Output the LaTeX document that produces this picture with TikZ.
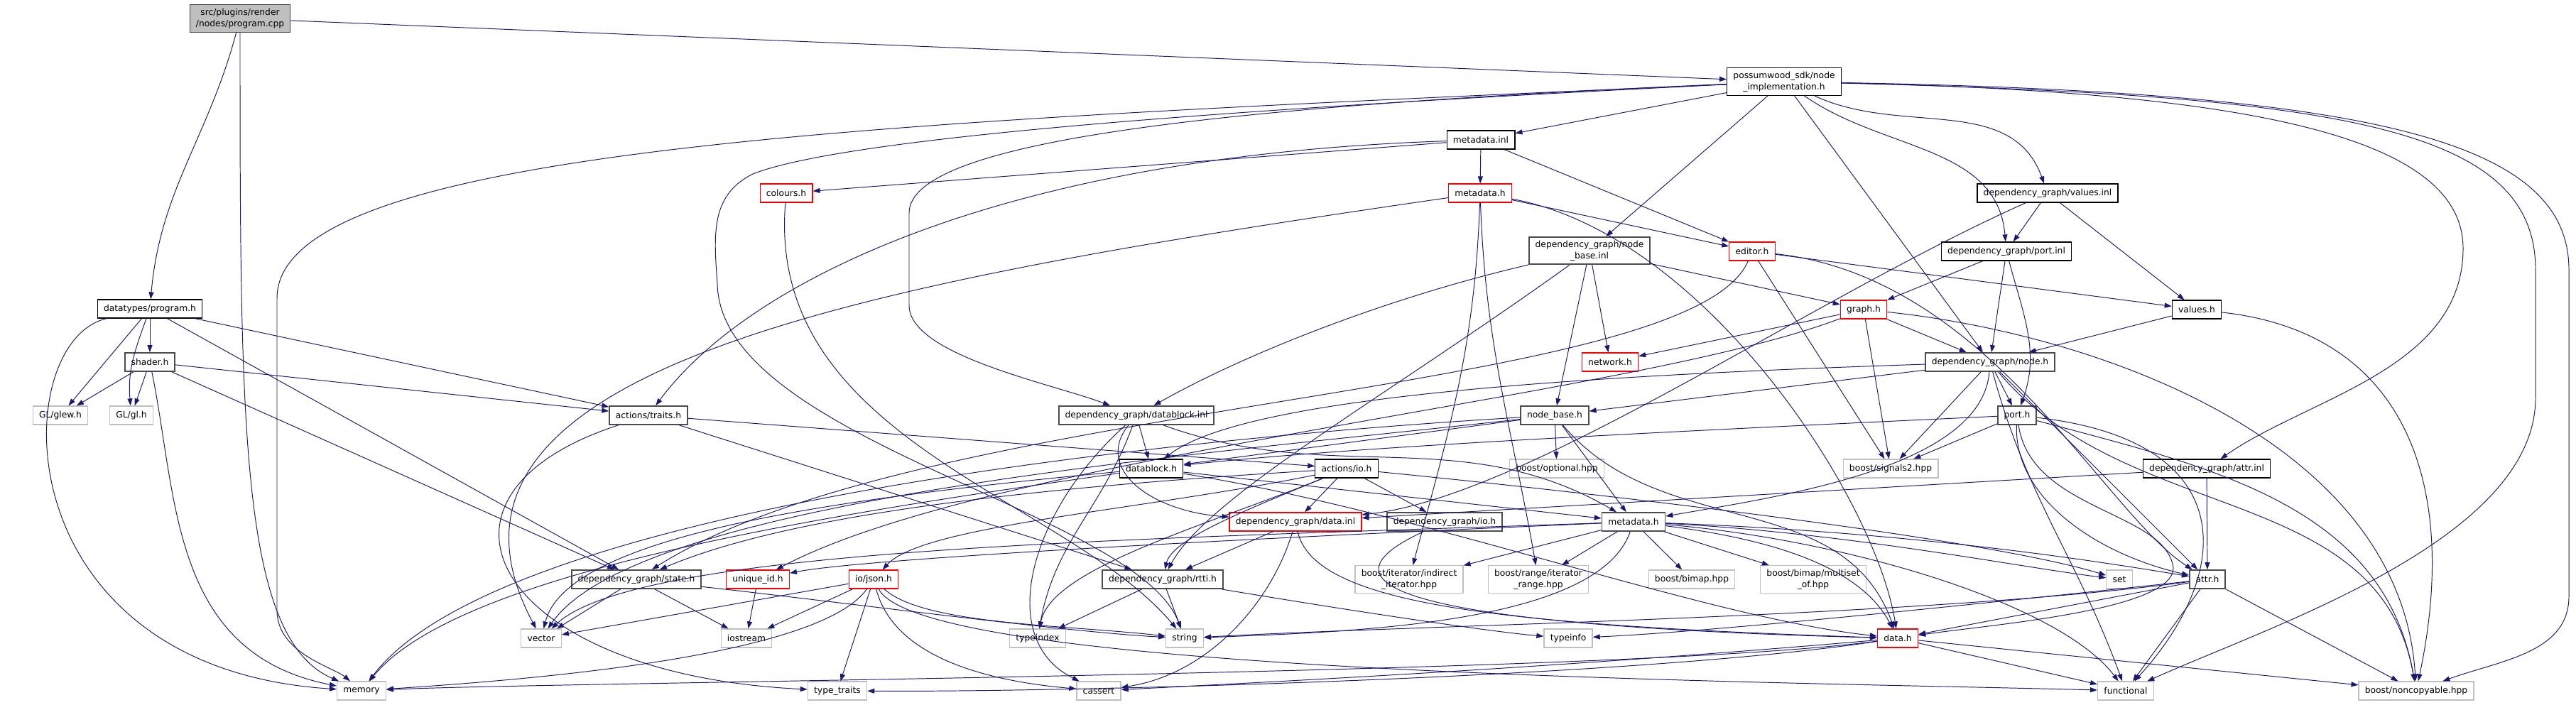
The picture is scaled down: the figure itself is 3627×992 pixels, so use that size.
\documentclass[tikz,border=0pt]{standalone}
\usepackage{fontspec}
\setmainfont{DejaVu Sans}
\usepackage{tikz}
\usetikzlibrary{arrows.meta}
\definecolor{edgeblue}{RGB}{25, 25, 112}
\definecolor{rootgray}{RGB}{191, 191, 191}
\definecolor{extgray}{RGB}{191, 191, 191}
\definecolor{truncred}{RGB}{255, 0, 0}

\begin{document}
\begin{tikzpicture}[x=0.02cm, y=0.02cm,
    file/.style={draw=black, fill=white, line width=0.7pt, inner xsep=5pt, inner ysep=3pt,
                 minimum height=0.52cm, align=center, font=\fontsize{7}{9}\selectfont},
    filedark/.style={file, draw=black!70, line width=1pt},
    trunc/.style={file, draw=truncred},
    ext/.style={file, draw=extgray},
    rootfile/.style={file, fill=rootgray, draw=black!75},
    dep/.style={draw=edgeblue, line width=0.55pt, -{Triangle[length=2mm, width=1.4mm]}}
]
    \path[use as bounding box, fill=white] (0,0) rectangle (3627,-992);

    % files
    \node[rootfile] (root) at (338,-26) {src/plugins/render\\/nodes/program.cpp};
    \node[file] (impl) at (2512,-115) {possumwood\_sdk/node\\\_implementation.h};
    \node[file] (minl) at (2085,-197) {metadata.inl};
    \node[trunc] (colours) at (1107,-272) {colours.h};
    \node[trunc] (mdh) at (2084,-272) {metadata.h};
    \node[file] (valinl) at (2883,-272) {dependency\_graph/values.inl};
    \node[filedark] (nbinl) at (2238,-353) {dependency\_graph/node\\\_base.inl};
    \node[trunc] (editor) at (2467,-354) {editor.h};
    \node[file] (portinl) at (2825,-354) {dependency\_graph/port.inl};
    \node[file] (dtprog) at (211,-435) {datatypes/program.h};
    \node[trunc] (graph) at (2624,-436) {graph.h};
    \node[file] (valh) at (3093,-436) {values.h};
    \node[filedark] (shader) at (211,-510) {shader.h};
    \node[trunc] (network) at (2267,-510) {network.h};
    \node[filedark] (nodeh) at (2802,-510) {dependency\_graph/node.h};
    \node[ext] (glew) at (85,-585) {GL/glew.h};
    \node[ext] (gl) at (185,-585) {GL/gl.h};
    \node[filedark] (traits) at (913,-585) {actions/traits.h};
    \node[filedark] (dbinl) at (1600,-585) {dependency\_graph/datablock.inl};
    \node[filedark] (nbh) at (2189,-585) {node\_base.h};
    \node[filedark] (porth) at (2840,-585) {port.h};
    \node[file] (dbh) at (1621,-660) {datablock.h};
    \node[file] (aio) at (1896,-660) {actions/io.h};
    \node[ext] (optional) at (2192,-660) {boost/optional.hpp};
    \node[ext] (signals) at (2662,-660) {boost/signals2.hpp};
    \node[file] (attrinl) at (3107,-660) {dependency\_graph/attr.inl};
    \node[trunc] (datainl) at (1824,-735) {dependency\_graph/data.inl};
    \node[filedark] (dgio) at (2034,-735) {dependency\_graph/io.h};
    \node[filedark] (dgmeta) at (2300,-735) {metadata.h};
    \node[filedark] (state) at (896,-816) {dependency\_graph/state.h};
    \node[trunc] (uid) at (1067,-816) {unique\_id.h};
    \node[trunc] (json) at (1230,-816) {io/json.h};
    \node[filedark] (rtti) at (1637,-816) {dependency\_graph/rtti.h};
    \node[ext] (indirect) at (1984,-816) {boost/iterator/indirect\\\_iterator.hpp};
    \node[ext] (range) at (2166,-816) {boost/range/iterator\\\_range.hpp};
    \node[ext] (bimap) at (2382,-816) {boost/bimap.hpp};
    \node[ext] (multiset) at (2553,-816) {boost/bimap/multiset\\\_of.hpp};
    \node[ext] (set) at (2984,-816) {set};
    \node[filedark] (attrh) at (3108,-816) {attr.h};
    \node[ext] (vector) at (762,-899) {vector};
    \node[ext] (iostream) at (1051,-899) {iostream};
    \node[ext] (typeindex) at (1461,-899) {typeindex};
    \node[ext] (strg) at (1668,-899) {string};
    \node[ext] (typeinfo) at (2208,-899) {typeinfo};
    \node[trunc] (datah) at (2672,-899) {data.h};
    \node[ext] (memory) at (509,-973) {memory};
    \node[ext] (ttraits) at (1179,-973) {type\_traits};
    \node[ext] (cassert) at (1547,-973) {cassert};
    \node[ext] (functional) at (2993,-973) {functional};
    \node[ext] (noncopy) at (3402,-973) {boost/noncopyable.hpp};

    % includes
    \draw[dep] (root) -- (impl);
    \draw[dep] (root) to[out=-105,in=85] (dtprog);
    \draw[dep] (root) .. controls (338,-600) and (338,-900) .. (memory);

    \draw[dep] (dtprog) .. controls (10,-480) and (0,-940) .. (memory);
    \draw[dep] (dtprog) -- (glew);
    \draw[dep] (dtprog) to[out=-110,in=95] (gl);
    \draw[dep] (dtprog) -- (shader);
    \draw[dep] (dtprog) -- (state);
    \draw[dep] (dtprog) -- (traits);

    \draw[dep] (shader) -- (glew);
    \draw[dep] (shader) -- (gl);
    \draw[dep] (shader) .. controls (250,-700) and (240,-920) .. (memory);
    \draw[dep] (shader) -- (state);
    \draw[dep] (shader) -- (traits);

    \draw[dep] (impl) -- (minl);
    \draw[dep] (impl) -- (nbinl);
    \draw[dep] (impl) -- (nodeh);
    \draw[dep] (impl) to[out=-35,in=95] (portinl);
    \draw[dep] (impl) to[out=-25,in=110] (valinl);
    \draw[dep] (impl) .. controls (3200,-130) and (3468,-200) .. (3468,-350)
        .. controls (3468,-520) and (3250,-560) .. (attrinl);
    \draw[dep] (impl) .. controls (3300,-135) and (3570,-180) .. (3570,-380)
        -- (3570,-560) .. controls (3570,-760) and (3200,-880) .. (functional);
    \draw[dep] (impl) .. controls (3350,-130) and (3617,-200) .. (3617,-380)
        -- (3617,-840) .. controls (3617,-920) and (3520,-930) .. (noncopy);
    \draw[dep] (impl) .. controls (1300,-170) and (390,-200) .. (390,-420)
        -- (390,-860) .. controls (390,-920) and (470,-940) .. (memory);
    \draw[dep] (impl) .. controls (1800,-150) and (1200,-190) .. (1060,-245)
        .. controls (1000,-275) and (1005,-330) .. (1010,-400)
        .. controls (1015,-620) and (1600,-720) .. (strg);
    \draw[dep] (impl) .. controls (1700,-150) and (1280,-200) .. (1280,-300)
        -- (1280,-430) .. controls (1280,-500) and (1480,-540) .. (dbinl);

    \draw[dep] (minl) -- (mdh);
    \draw[dep] (minl) -- (editor);
    \draw[dep] (minl) -- (colours);
    \draw[dep] (minl) .. controls (1400,-220) and (1050,-400) .. (traits);
    \draw[dep] (colours) .. controls (1078,-620) and (1500,-700) .. (strg);

    \draw[dep] (mdh) -- (editor);
    \draw[dep] (mdh) .. controls (1200,-400) and (560,-520) .. (vector);
    \draw[dep] (mdh) .. controls (2400,-330) and (2640,-700) .. (datah);
    \draw[dep] (mdh) to[out=-92,in=75] (indirect);
    \draw[dep] (mdh) to[out=-88,in=100] (range);

    \draw[dep] (valinl) -- (portinl);
    \draw[dep] (valinl) -- (valh);
    \draw[dep] (valinl) .. controls (2550,-420) and (2150,-700) .. (datainl);

    \draw[dep] (nbinl) -- (nbh);
    \draw[dep] (nbinl) -- (network);
    \draw[dep] (nbinl) -- (graph);
    \draw[dep] (nbinl) .. controls (1950,-420) and (1750,-500) .. (dbinl);
    \draw[dep] (nbinl) .. controls (1950,-560) and (1700,-700) .. (rtti);

    \draw[dep] (editor) -- (valh);
    \draw[dep] (editor) -- (signals);
    \draw[dep] (editor) .. controls (2380,-560) and (1300,-560) .. (state);
    \draw[dep] (editor) .. controls (2800,-390) and (2960,-720) .. (attrh);

    \draw[dep] (portinl) -- (graph);
    \draw[dep] (portinl) -- (nodeh);
    \draw[dep] (portinl) to[out=-75,in=70] (porth);

    \draw[dep] (graph) -- (network);
    \draw[dep] (graph) -- (nodeh);
    \draw[dep] (graph) -- (signals);
    \draw[dep] (graph) .. controls (2300,-560) and (1400,-640) .. (uid);
    \draw[dep] (graph) .. controls (2950,-470) and (3380,-620) .. (noncopy);

    \draw[dep] (valh) -- (nodeh);
    \draw[dep] (valh) .. controls (3400,-470) and (3460,-700) .. (noncopy);

    \draw[dep] (nodeh) -- (nbh);
    \draw[dep] (nodeh) -- (porth);
    \draw[dep] (nodeh) -- (signals);
    \draw[dep] (nodeh) -- (attrh);
    \draw[dep] (nodeh) to[out=-50,in=100] (noncopy);
    \draw[dep] (nodeh) to[out=-75,in=110] (functional);
    \draw[dep] (nodeh) .. controls (2790,-660) and (2500,-700) .. (dgmeta);
    \draw[dep] (nodeh) .. controls (2200,-530) and (1750,-560) .. (dbh);

    \draw[dep] (nbh) -- (dbh);
    \draw[dep] (nbh) -- (optional);
    \draw[dep] (nbh) -- (dgmeta);
    \draw[dep] (nbh) .. controls (1700,-640) and (900,-700) .. (vector);
    \draw[dep] (nbh) .. controls (1600,-620) and (700,-720) .. (memory);
    \draw[dep] (nbh) to[out=-50,in=110] (datah);

    \draw[dep] (porth) -- (signals);
    \draw[dep] (porth) .. controls (2835,-700) and (2950,-780) .. (attrh);
    \draw[dep] (porth) .. controls (2300,-610) and (1900,-630) .. (dbh);
    \draw[dep] (porth) .. controls (2860,-720) and (3050,-720) .. (3060,-800)
        .. controls (3060,-860) and (2800,-880) .. (datah);
    \draw[dep] (porth) to[out=-15,in=100] (noncopy);
    \draw[dep] (porth) .. controls (3150,-620) and (3150,-800) .. (functional);

    \draw[dep] (attrinl) -- (attrh);
    \draw[dep] (attrinl) -- (datainl);

    \draw[dep] (traits) -- (aio);
    \draw[dep] (traits) -- (rtti);
    \draw[dep] (traits) .. controls (560,-700) and (700,-950) .. (ttraits);

    \draw[dep] (dbinl) -- (dbh);
    \draw[dep] (dbinl) .. controls (1540,-660) and (1620,-720) .. (datainl);
    \draw[dep] (dbinl) to[out=-110,in=80] (typeindex);
    \draw[dep] (dbinl) .. controls (1450,-720) and (1400,-900) .. (cassert);
    \draw[dep] (dbinl) to[out=-20,in=150] (dgmeta);

    \draw[dep] (dbh) -- (dgmeta);
    \draw[dep] (dbh) .. controls (2000,-720) and (2400,-870) .. (datah);
    \draw[dep] (dbh) .. controls (1200,-700) and (800,-750) .. (vector);
    \draw[dep] (dbh) .. controls (1200,-720) and (650,-800) .. (memory);

    \draw[dep] (aio) -- (datainl);
    \draw[dep] (aio) -- (dgio);
    \draw[dep] (aio) .. controls (1600,-720) and (1300,-740) .. (json);
    \draw[dep] (aio) .. controls (1750,-720) and (1650,-760) .. (rtti);
    \draw[dep] (aio) .. controls (1400,-690) and (1100,-730) .. (state);
    \draw[dep] (aio) .. controls (2300,-700) and (2800,-760) .. (set);
    \draw[dep] (aio) .. controls (1700,-740) and (1480,-800) .. (typeindex);

    \draw[dep] (dgio) .. controls (1850,-820) and (1950,-880) .. (datah);

    \draw[dep] (datainl) -- (rtti);
    \draw[dep] (datainl) .. controls (1790,-850) and (1700,-950) .. (cassert);
    \draw[dep] (datainl) .. controls (1850,-850) and (2100,-880) .. (datah);

    \draw[dep] (dgmeta) -- (indirect);
    \draw[dep] (dgmeta) -- (range);
    \draw[dep] (dgmeta) -- (bimap);
    \draw[dep] (dgmeta) -- (multiset);
    \draw[dep] (dgmeta) .. controls (2250,-880) and (1900,-890) .. (strg);
    \draw[dep] (dgmeta) .. controls (1600,-760) and (900,-770) .. (vector);
    \draw[dep] (dgmeta) .. controls (1600,-765) and (1200,-790) .. (uid);
    \draw[dep] (dgmeta) .. controls (2600,-750) and (2850,-800) .. (set);
    \draw[dep] (dgmeta) .. controls (2700,-750) and (2950,-790) .. (attrh);
    \draw[dep] (dgmeta) .. controls (2500,-760) and (2620,-800) .. (datah);
    \draw[dep] (dgmeta) .. controls (2600,-760) and (2900,-850) .. (functional);

    \draw[dep] (state) -- (vector);
    \draw[dep] (state) -- (iostream);
    \draw[dep] (state) .. controls (1200,-850) and (1500,-890) .. (strg);
    \draw[dep] (uid) -- (iostream);

    \draw[dep] (json) -- (vector);
    \draw[dep] (json) -- (iostream);
    \draw[dep] (json) -- (ttraits);
    \draw[dep] (json) .. controls (1150,-930) and (700,-960) .. (memory);
    \draw[dep] (json) .. controls (1300,-880) and (1500,-880) .. (strg);
    \draw[dep] (json) .. controls (1260,-930) and (1400,-960) .. (cassert);
    \draw[dep] (json) .. controls (1300,-950) and (2500,-960) .. (functional);

    \draw[dep] (rtti) -- (typeindex);
    \draw[dep] (rtti) -- (strg);
    \draw[dep] (rtti) .. controls (1900,-860) and (2100,-890) .. (typeinfo);

    \draw[dep] (attrh) -- (datah);
    \draw[dep] (attrh) .. controls (2700,-870) and (2000,-880) .. (strg);
    \draw[dep] (attrh) .. controls (2700,-860) and (2400,-890) .. (typeinfo);
    \draw[dep] (attrh) -- (functional);
    \draw[dep] (attrh) -- (noncopy);

    \draw[dep] (datah) .. controls (2300,-950) and (800,-960) .. (memory);
    \draw[dep] (datah) .. controls (2200,-940) and (1800,-960) .. (cassert);
    \draw[dep] (datah) .. controls (2300,-955) and (1500,-975) .. (ttraits);
    \draw[dep] (datah) -- (functional);
    \draw[dep] (datah) -- (noncopy);
\end{tikzpicture}
\end{document}
